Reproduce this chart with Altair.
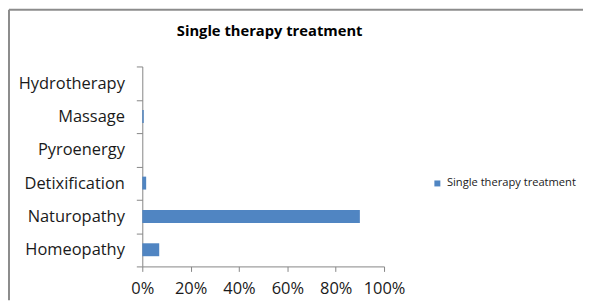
import altair as alt
import pandas as pd

categories = ["Hydrotherapy", "Massage", "Pyroenergy", "Detixification", "Naturopathy", "Homeopathy"]
values = [0.0, 0.006, 0.0, 0.016, 0.90, 0.07]
series = "Single therapy treatment"
title_text = "Single therapy treatment"
x_ticks = [0, 0.2, 0.4, 0.6, 0.8, 1.0]

df = pd.DataFrame({"category": categories, "value": values, "series": [series] * len(categories)})

FONT = "Open Sans"
W, H = 243, 201
PL, PT, PR, PB = 135, 58, 200, 34

bars = alt.Chart(df).mark_bar(size=13).encode(
    y=alt.Y("category:N", sort=categories, title=None,
            scale=alt.Scale(paddingInner=0, paddingOuter=0),
            axis=alt.Axis(tickBand="extent", tickSize=6, labelPadding=12,
                          labelFontSize=16.5, labelFont=FONT, labelColor="#1a1a1a",
                          domainColor="#868686", tickColor="#868686", grid=False)),
    x=alt.X("value:Q", title=None,
            scale=alt.Scale(domain=[0, 1], nice=False),
            axis=alt.Axis(values=x_ticks, format=".0%", tickSize=5, labelPadding=9,
                          labelFontSize=16.5, labelFont=FONT, labelColor="#1a1a1a",
                          domainColor="#868686", tickColor="#868686", grid=False,
                          labelFlush=False)),
    color=alt.Color("series:N", title=None,
                    scale=alt.Scale(range=["#5085C2"]),
                    legend=alt.Legend(orient="none", legendX=291, legendY=112,
                                      symbolType="square", symbolSize=36,
                                      symbolStrokeWidth=0, labelFont=FONT,
                                      labelFontSize=11.2, labelColor="#1a1a1a",
                                      labelOffset=4, padding=0, labelLimit=300)),
)

one = alt.Data(values=[{"t": title_text}])
left_border = alt.Chart(one).mark_rule(color="#8c8c8c", strokeWidth=2).encode(
    x=alt.value(-PL + 1), y=alt.value(-PT + 1), y2=alt.value(H + PB)
)
top_border = alt.Chart(one).mark_rule(color="#8c8c8c", strokeWidth=2).encode(
    x=alt.value(-PL + 1), x2=alt.value(W + PR), y=alt.value(-PT + 1)
)
title = alt.Chart(one).mark_text(font=FONT, fontSize=14.8, fontWeight="bold", color="#000000",
                                 align="center", baseline="middle").encode(
    text="t:N", x=alt.value(128), y=alt.value(-35)
)

chart = alt.layer(bars, left_border, top_border, title).properties(
    width=W, height=H,
    autosize=alt.AutoSizeParams(type="none"),
    padding={"left": PL, "top": PT, "right": PR, "bottom": PB},
).configure_view(stroke=None)

chart.save("out.html", embed_options={"renderer": "svg", "actions": False})
